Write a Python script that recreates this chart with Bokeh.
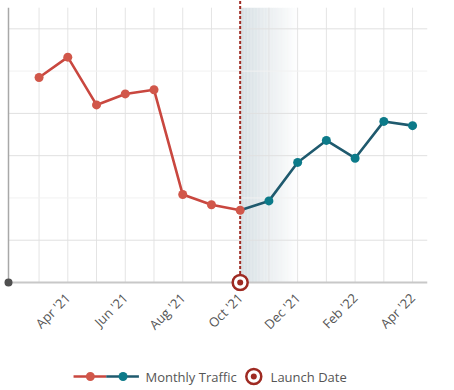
import math
from bokeh.plotting import figure
from bokeh.models import Range1d, FixedTicker
from bokeh.layouts import column
from bokeh.embed import file_html
from bokeh.resources import INLINE
from bokeh.core.properties import value

months = ["Mar '21", "Apr '21", "May '21", "Jun '21", "Jul '21", "Aug '21", "Sep '21",
          "Oct '21", "Nov '21", "Dec '21", "Jan '22", "Feb '22", "Mar '22", "Apr '22"]
traffic = [48.5, 53.3, 42.0, 44.6, 45.6, 20.8, 18.4, 17.1, 19.3, 28.4, 33.6, 29.4, 38.1, 37.1]
launch_month = "Oct '21"
shade_months = 2  # gradient width after launch, in months
labelled_months = ["Apr '21", "Jun '21", "Aug '21", "Oct '21", "Dec '21", "Feb '22", "Apr '22"]
grid_major = [10, 30, 40, 60]
grid_minor = [20, 50]

RED_LINE = "#c9473f"
RED_DOT = "#d1574a"
TEAL_LINE = "#1f5a6e"
TEAL_DOT = "#0c7a89"
LAUNCH = "#9e2a22"
TXT = "#555555"

idx = list(range(len(months)))
li = months.index(launch_month)

x_lo, x_end = -1.238, 13.52
axis_x = -1.064
y_lo, y_end = -2.13, 66.7
y_top = 65.0

p = figure(frame_width=424, frame_height=291, output_backend="svg", toolbar_location=None,
           x_range=Range1d(x_lo, x_end), y_range=Range1d(y_lo, y_end))
p.min_border_left = 3
p.min_border_right = 27
p.min_border_top = 0
p.min_border_bottom = 49
p.outline_line_color = None
p.background_fill_color = "white"
p.border_fill_color = "white"
p.grid.visible = False

# axes
p.yaxis.visible = False
p.xaxis.ticker = FixedTicker(ticks=[months.index(m) for m in labelled_months], minor_ticks=[])
p.xaxis.major_label_overrides = {months.index(m): m for m in labelled_months}
p.xaxis.major_label_orientation = math.pi / 4
p.xaxis.major_label_text_font = "Open Sans"
p.xaxis.major_label_text_font_size = "13px"
p.xaxis.major_label_text_color = TXT
p.xaxis.major_tick_line_color = None
p.xaxis.minor_tick_line_color = None
p.xaxis.axis_line_color = None
p.xaxis.major_label_standoff = -2

# gradient shade after launch
n = 40
w = shade_months / n
lefts = [li + k * w for k in range(n)]
rights = [li + (k + 1) * w for k in range(n)]
alphas = [0.85 * (1 - k / n) for k in range(n)]
p.quad(left=lefts, right=rights, bottom=0, top=y_top, fill_color="#cfd9de",
       fill_alpha=alphas, line_color=None)

# grid lines
p.segment(x0=idx, y0=[0] * len(idx), x1=idx, y1=[y_top] * len(idx),
          line_color="#e4e4e4", line_width=1)
p.segment(x0=[axis_x] * len(grid_major), y0=grid_major, x1=[x_end] * len(grid_major),
          y1=grid_major, line_color="#e0e0e0", line_width=1)
p.segment(x0=[axis_x] * len(grid_minor), y0=grid_minor, x1=[x_end] * len(grid_minor),
          y1=grid_minor, line_color="#f1f1f1", line_width=1)

# axis lines
p.segment(x0=[axis_x], y0=[0], x1=[axis_x], y1=[y_top], line_color="#a8a8a8", line_width=1.5)
p.segment(x0=[axis_x], y0=[0], x1=[x_end], y1=[0], line_color="#c8c8c8", line_width=2)

# launch dashed line
p.segment(x0=[li], y0=[2], x1=[li], y1=[y_end], line_color=LAUNCH, line_width=2,
          line_dash="3 2")

# series
p.line(idx[:li + 1], traffic[:li + 1], line_color=RED_LINE, line_width=2.6)
p.line(idx[li:], traffic[li:], line_color=TEAL_LINE, line_width=2.6)
p.scatter(idx[li + 1:], traffic[li + 1:], size=9, fill_color=TEAL_DOT, line_color=None)
p.scatter(idx[:li + 1], traffic[:li + 1], size=9, fill_color=RED_DOT, line_color=None)

# launch marker
p.scatter([li], [0], size=15, fill_color="white", line_color=LAUNCH, line_width=2.5)
p.scatter([li], [0], size=6, fill_color=LAUNCH, line_color=None)

# origin dot
p.scatter([axis_x], [0], size=8, fill_color="#505050", line_color=None)

# legend figure
lg = figure(width=454, height=46, output_backend="svg", toolbar_location=None,
            x_range=Range1d(0, 454), y_range=Range1d(0, 46))
lg.min_border_left = 0
lg.min_border_right = 0
lg.min_border_top = 0
lg.min_border_bottom = 0
lg.axis.visible = False
lg.grid.visible = False
lg.outline_line_color = None
ly = 12
lg.line([75, 110], [ly, ly], line_color=RED_LINE, line_width=2.6)
lg.line([110, 145], [ly, ly], line_color=TEAL_LINE, line_width=2.6)
lg.scatter([93], [ly], size=9, fill_color=RED_DOT, line_color=None)
lg.scatter([128], [ly], size=9, fill_color=TEAL_DOT, line_color=None)
lg.text([152], [ly], text=["Monthly Traffic"], text_font=value("Open Sans"),
        text_font_size="13px", text_color=TXT, text_baseline="middle")
lg.scatter([268], [ly], size=15, fill_color="white", line_color=LAUNCH, line_width=2.5)
lg.scatter([268], [ly], size=6, fill_color=LAUNCH, line_color=None)
lg.text([286], [ly], text=["Launch Date"], text_font=value("Open Sans"),
        text_font_size="13px", text_color=TXT, text_baseline="middle")

layout = column(p, lg, spacing=0)
open("out.html", "w").write(file_html(layout, INLINE))
